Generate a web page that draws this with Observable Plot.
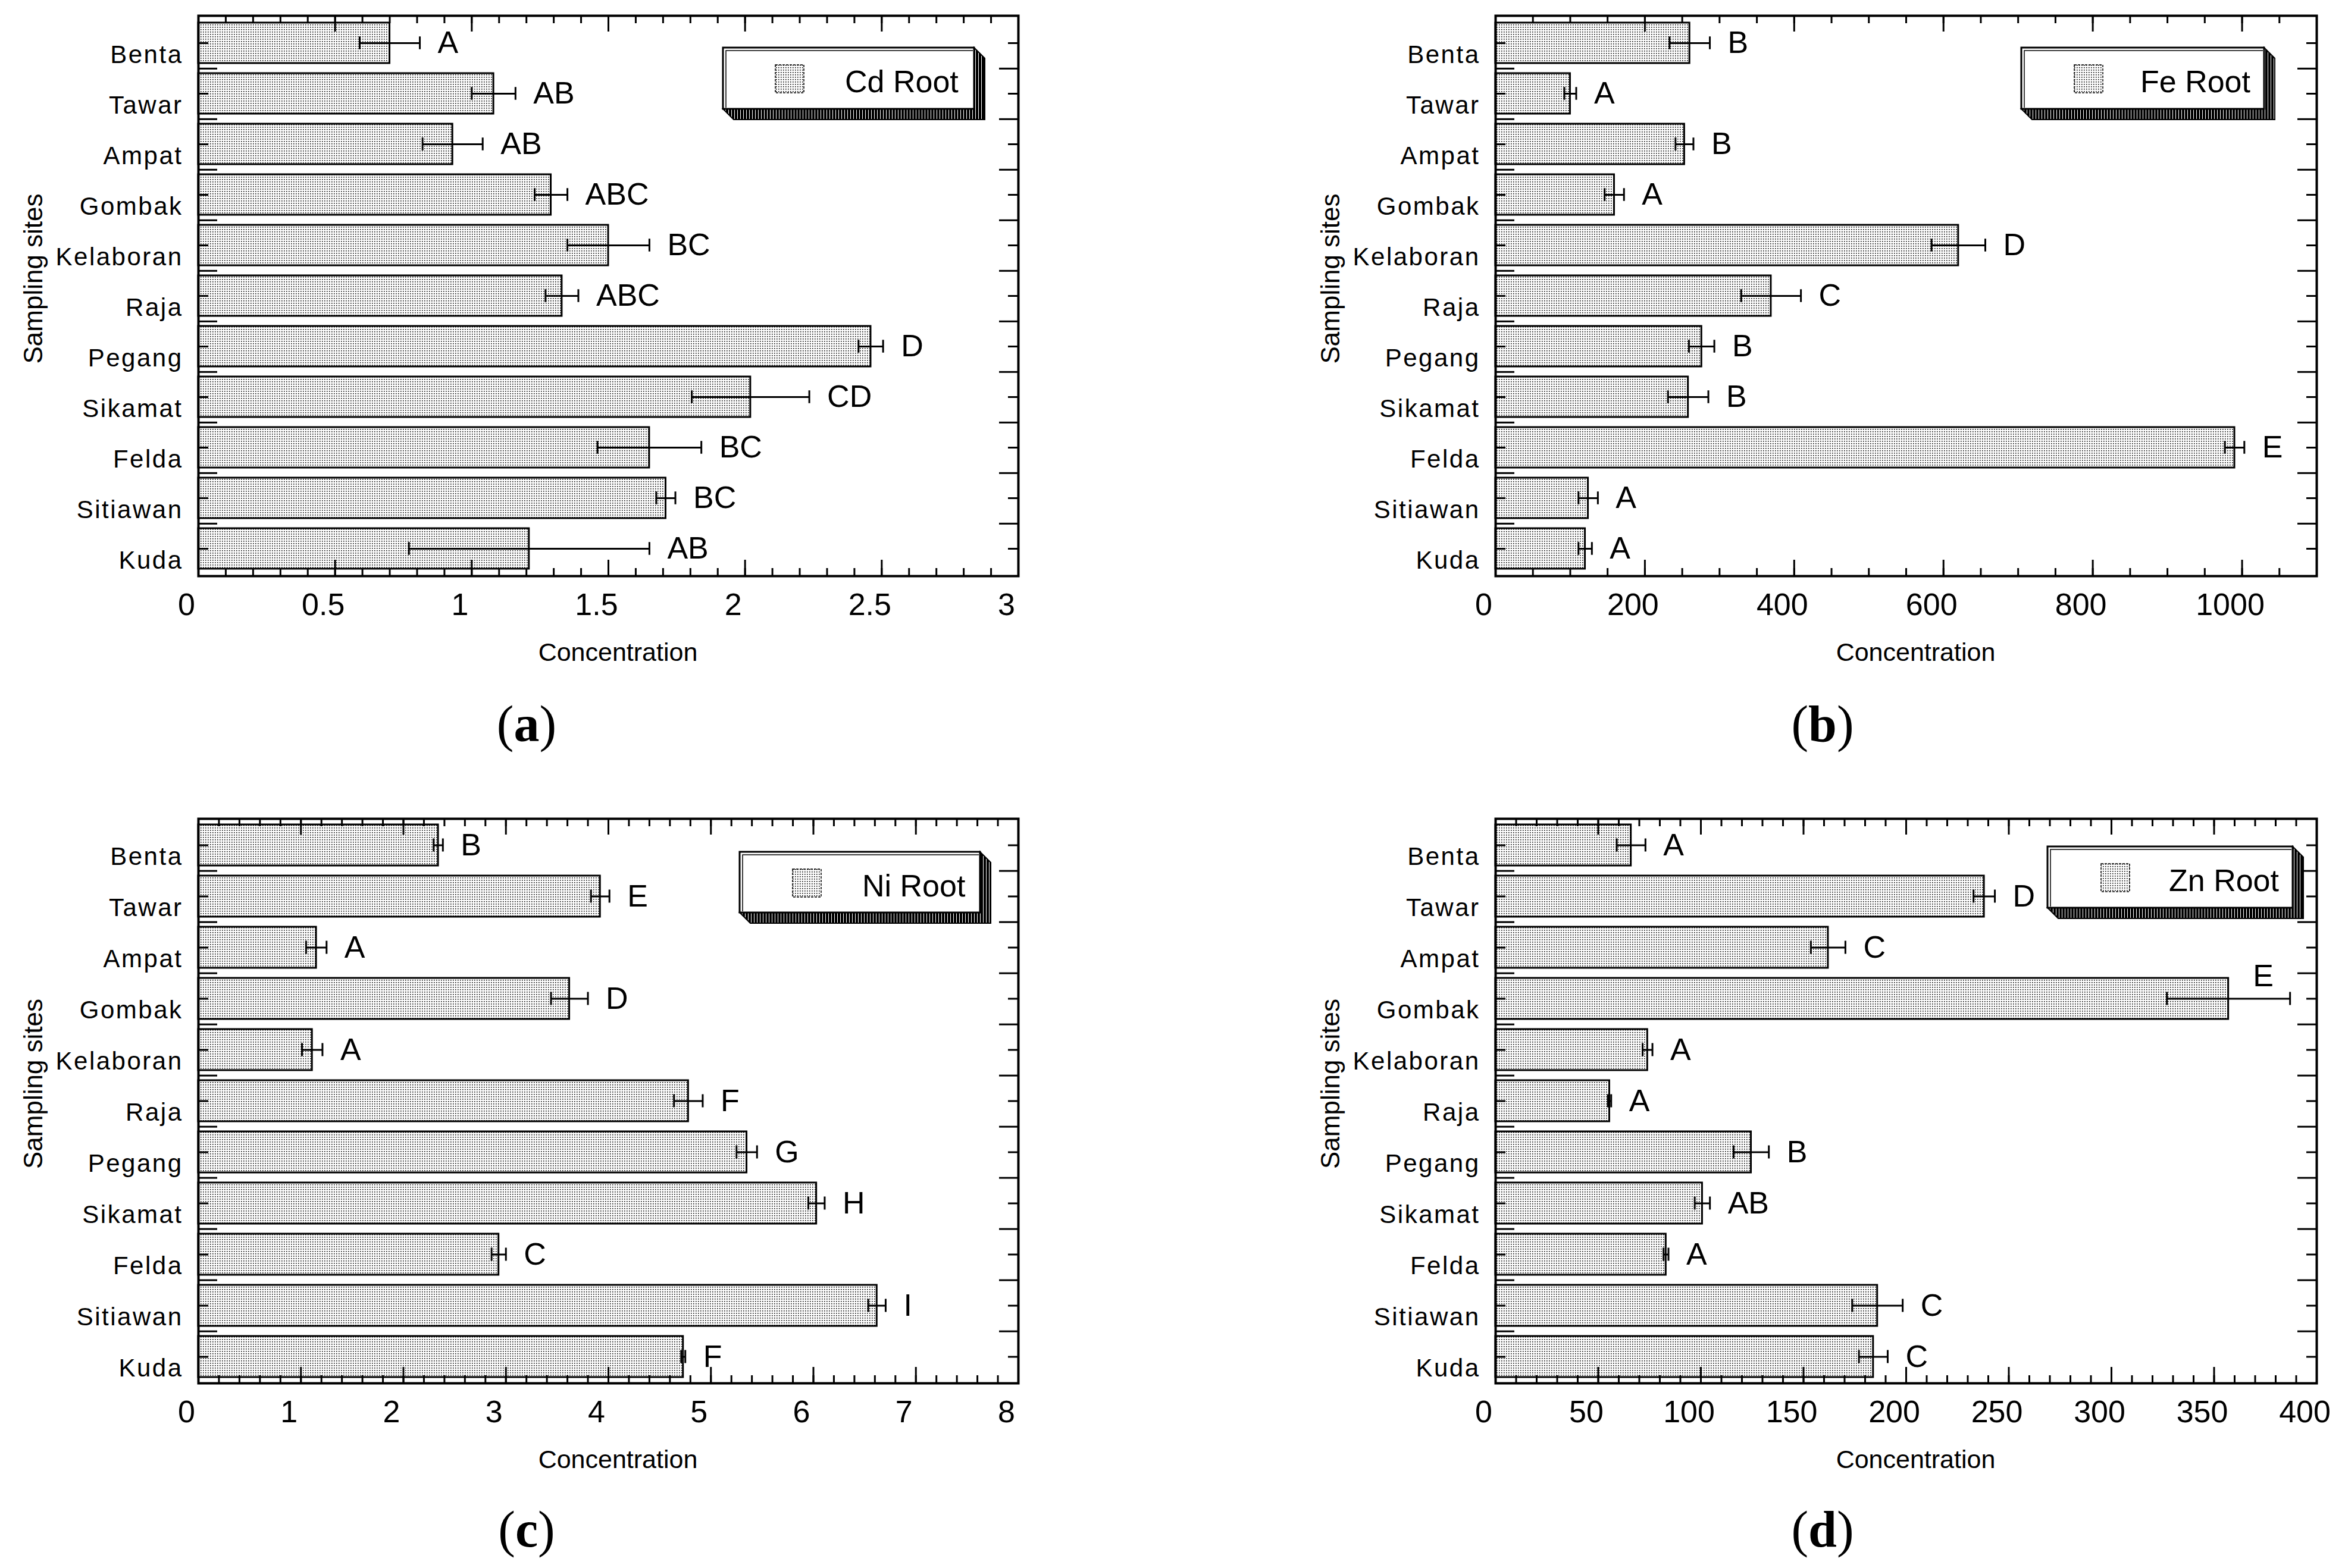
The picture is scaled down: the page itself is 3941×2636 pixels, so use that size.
<!DOCTYPE html>
<html>
<head>
<meta charset="utf-8">
<script src="https://cdn.jsdelivr.net/npm/d3@7"></script>
<script src="https://cdn.jsdelivr.net/npm/@observablehq/plot@0.6"></script>
<style>
html, body { margin: 0; padding: 0; background: #fff; }
#fig { position: relative; width: 3941px; height: 2636px; overflow: hidden; background: #fff; }
#fig > svg { position: absolute; }
</style>
</head>
<body>
<svg width="0" height="0" style="position:absolute">
  <defs>
    <pattern id="dots" width="4" height="4" patternUnits="userSpaceOnUse">
      <rect width="4" height="4" fill="#fff"></rect>
      <rect x="1" y="1" width="1.6" height="1.6" fill="#000"></rect>
    </pattern>
    <pattern id="stripes" width="5" height="5" patternUnits="userSpaceOnUse">
      <rect width="5" height="5" fill="#fff"></rect>
      <rect width="4" height="5" fill="#000"></rect>
    </pattern>
  </defs>
</svg>
<div id="fig"></div>
<script>
// ---------- data ----------
const sites = ["Benta", "Tawar", "Ampat", "Gombak", "Kelaboran", "Raja", "Pegang", "Sikamat", "Felda", "Sitiawan", "Kuda"];

const cdRoot    = [0.70, 1.08, 0.93, 1.29, 1.50, 1.33, 2.46, 2.02, 1.65, 1.71, 1.21];
const cdErr     = [0.11, 0.08, 0.11, 0.06, 0.15, 0.06, 0.045, 0.215, 0.19, 0.035, 0.44];
const cdLetters = ["A", "AB", "AB", "ABC", "BC", "ABC", "D", "CD", "BC", "BC", "AB"];

const feRoot    = [260, 100, 253, 159, 620, 369, 276, 258, 990, 124, 120];
const feErr     = [27, 8, 12, 13, 36, 40, 17, 27, 13, 13, 9];
const feLetters = ["B", "A", "B", "A", "D", "C", "B", "B", "E", "A", "A"];

const niRoot    = [2.34, 3.92, 1.15, 3.62, 1.11, 4.78, 5.35, 6.03, 2.93, 6.62, 4.73];
const niErr     = [0.045, 0.09, 0.10, 0.18, 0.10, 0.14, 0.10, 0.08, 0.07, 0.085, 0.02];
const niLetters = ["B", "E", "A", "D", "A", "F", "G", "H", "C", "I", "F"];

const znRoot    = [66, 238, 162, 357, 74, 55.5, 124.5, 100.7, 83, 186, 184];
const znErr     = [7, 5.2, 8.4, 30, 2.4, 0.8, 8.6, 3.7, 1.2, 12.3, 7];
const znLetters = ["A", "D", "C", "E", "A", "A", "B", "AB", "A", "C", "C"];

const cdTicks = [0, 0.5, 1, 1.5, 2, 2.5, 3];
const feTicks = [0, 200, 400, 600, 800, 1000];
const niTicks = [0, 1, 2, 3, 4, 5, 6, 7, 8];
const znTicks = [0, 50, 100, 150, 200, 250, 300, 350, 400];

const legendLabels = ["Cd Root", "Fe Root", "Ni Root", "Zn Root"];
const panelCaptions = ["a", "b", "c", "d"];
const xLabel = "Concentration";
const yLabel = "Sampling sites";

// ---------- drawing ----------
const fig = document.getElementById("fig");
const FONT = "'Liberation Sans', Arial, Helvetica, sans-serif";

function panel(cfg) {
  const rows = sites.map((site, i) => ({site, v: cfg.values[i], e: cfg.errors[i], g: cfg.letters[i]}));
  const W = 1970, H = 1318;
  const {ml, mr, mt, mb, max, minor, ticks} = cfg;
  const pw = W - ml - mr, ph = H - mt - mb;
  const step = ph / sites.length;
  const bw = step * 0.8;
  const capInset = (bw - 22) / 2;
  const n = Math.round(max / minor);
  const minorTicks = d3.range(0, n + 1).map(k => +(k * minor).toFixed(6));
  const majorTicks = ticks;
  const over = d => d.v + d.e > 0.95 * max;
  const lw = 3;
  const svg = Plot.plot({
    width: W, height: H,
    marginTop: mt, marginBottom: mb, marginLeft: ml, marginRight: mr,
    style: {fontFamily: FONT, color: "#000", background: "transparent", overflow: "visible"},
    x: {domain: [0, max], axis: null},
    y: {domain: sites, paddingInner: 0.2, paddingOuter: 0.1, axis: null},
    marks: [
      Plot.barX(rows, {x: "v", y: "site", fill: "url(#dots)", stroke: "#000", strokeWidth: lw}),
      Plot.ruleY(rows, {x1: d => d.v - d.e, x2: d => d.v + d.e, y: "site", stroke: "#000", strokeWidth: lw}),
      Plot.tickX(rows, {x: d => d.v - d.e, y: "site", insetTop: capInset, insetBottom: capInset, stroke: "#000", strokeWidth: lw}),
      Plot.tickX(rows, {x: d => d.v + d.e, y: "site", insetTop: capInset, insetBottom: capInset, stroke: "#000", strokeWidth: lw}),
      // inward frame ticks
      Plot.ruleX(minorTicks, {x: d => d, insetTop: ph - 13, stroke: "#000", strokeWidth: lw}),
      Plot.ruleX(minorTicks, {x: d => d, insetBottom: ph - 13, stroke: "#000", strokeWidth: lw}),
      Plot.ruleX(majorTicks, {x: d => d, insetTop: ph - 27, stroke: "#000", strokeWidth: lw}),
      Plot.ruleX(majorTicks, {x: d => d, insetBottom: ph - 27, stroke: "#000", strokeWidth: lw}),
      Plot.ruleY(sites, {y: d => d, insetRight: pw - 17, stroke: "#000", strokeWidth: lw}),
      Plot.ruleY(sites, {y: d => d, insetLeft: pw - 17, stroke: "#000", strokeWidth: lw}),
      Plot.ruleY(sites.slice(0, -1), {y: d => d, dy: step / 2, insetRight: pw - 32, stroke: "#000", strokeWidth: lw}),
      Plot.ruleY(sites.slice(0, -1), {y: d => d, dy: step / 2, insetLeft: pw - 32, stroke: "#000", strokeWidth: lw}),
      Plot.frame({stroke: "#000", strokeWidth: 4}),
      // significance letters
      Plot.text(rows.filter(d => !over(d)), {x: d => d.v + d.e, y: "site", text: "g", textAnchor: "start", dx: 30, fontSize: 52, fill: "#000"}),
      Plot.text(rows.filter(over), {x: d => d.v + d.e, y: "site", text: "g", textAnchor: "middle", dx: -45, dy: -38, fontSize: 52, fill: "#000"}),
      // y tick labels
      Plot.text(sites, {y: d => d, text: d => d, frameAnchor: "left", textAnchor: "end", dx: -26, dy: 20, fontSize: 42, fill: "#000", className: "ylab"}),
      // x tick labels
      Plot.text(majorTicks, {x: d => d, text: d => String(d), frameAnchor: "bottom", lineAnchor: "bottom", dy: 65, dx: -20, fontSize: 52, fill: "#000"}),
      // axis titles
      Plot.text([xLabel], {text: d => d, frameAnchor: "bottom", textAnchor: "middle", lineAnchor: "bottom", dy: 142, dx: 16, fontSize: 43, fill: "#000"}),
      Plot.text([yLabel], {text: d => d, frameAnchor: "left", textAnchor: "middle", rotate: -90, lineAnchor: "bottom", dx: -263, dy: -29, fontSize: 44, fill: "#000"})
    ]
  });
  svg.style.left = cfg.left + "px";
  svg.style.top = cfg.top + "px";
  d3.select(svg).selectAll(".ylab text").style("letter-spacing", "2.5px");
  fig.appendChild(svg);
}

panel({values: cdRoot, errors: cdErr, letters: cdLetters, ticks: cdTicks, max: 3, minor: 0.1,
       left: 0, top: 0, ml: 333, mr: 259, mt: 26, mb: 350});
panel({values: feRoot, errors: feErr, letters: feLetters, ticks: feTicks, max: 1100, minor: 50,
       left: 1970, top: 0, ml: 543, mr: 47, mt: 26, mb: 350});
panel({values: niRoot, errors: niErr, letters: niLetters, ticks: niTicks, max: 8, minor: 0.2,
       left: 0, top: 1318, ml: 333, mr: 259, mt: 58, mb: 311});
panel({values: znRoot, errors: znErr, letters: znLetters, ticks: znTicks, max: 400, minor: 10,
       left: 1970, top: 1318, ml: 543, mr: 47, mt: 58, mb: 311});

// ---------- legends and captions (overlay) ----------
const ov = d3.select(fig).append("svg")
  .attr("width", 3941).attr("height", 2636)
  .style("left", "0px").style("top", "0px");

const legendBoxes = [
  {x: 1215, y: 80, w: 422, h: 103, sw: 88, tx: 205},
  {x: 3397, y: 80, w: 408, h: 103, sw: 89, tx: 200},
  {x: 1243, y: 1432, w: 404, h: 102, sw: 89, tx: 206},
  {x: 3441, y: 1423, w: 412, h: 103, sw: 90, tx: 204}
];
legendBoxes.forEach((b, i) => {
  const s = 18;
  const g = ov.append("g").attr("transform", `translate(${b.x},${b.y})`);
  g.append("polygon")
    .attr("points", [[b.w, 0], [b.w + s, s], [b.w + s, b.h + s], [s, b.h + s], [0, b.h], [b.w, b.h]].map(p => p.join(",")).join(" "))
    .attr("fill", "url(#stripes)").attr("stroke", "#000").attr("stroke-width", 2);
  g.append("rect").attr("width", b.w).attr("height", b.h)
    .attr("fill", "#fff").attr("stroke", "#000").attr("stroke-width", 3);
  g.append("path").attr("d", `M5,${b.h - 2}V5H${b.w - 2}`)
    .attr("fill", "none").attr("stroke", "#000").attr("stroke-width", 1.5);
  g.append("rect").attr("x", b.sw).attr("y", 29).attr("width", 48).attr("height", 47)
    .attr("fill", "url(#dots)").attr("stroke", "#000").attr("stroke-width", 1.5).attr("stroke-dasharray", "4,2");
  g.append("text").attr("x", b.tx).attr("y", 75)
    .attr("font-family", FONT).attr("font-size", 52).attr("fill", "#000")
    .text(legendLabels[i]);
});

const capPos = [[885, 1246], [3063, 1246], [885, 2600], [3063, 2600]];
panelCaptions.forEach((c, i) => {
  const t = ov.append("text").attr("x", capPos[i][0]).attr("y", capPos[i][1])
    .attr("text-anchor", "middle")
    .attr("font-family", "'Liberation Serif', 'Times New Roman', serif")
    .attr("font-size", 86).attr("fill", "#000");
  t.append("tspan").text("(");
  t.append("tspan").attr("font-weight", "bold").text(c);
  t.append("tspan").text(")");
});
</script>
</body>
</html>
